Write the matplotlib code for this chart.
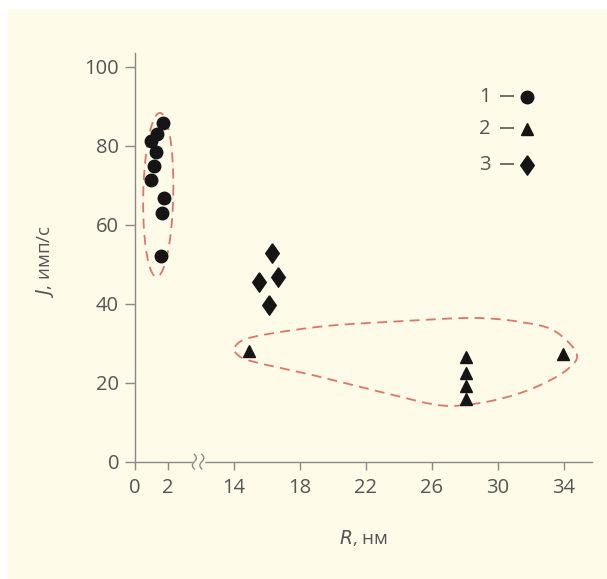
import numpy as np
import matplotlib
matplotlib.use("Agg")
import matplotlib.pyplot as plt
from matplotlib.patches import Rectangle

# data (R in nm, J in counts/s)
r1 = [1.68, 1.31, 0.95, 1.25, 1.13, 1.00, 1.74, 1.62, 1.58]
j1 = [85.7, 82.9, 81.3, 78.5, 75.0, 71.3, 66.8, 62.9, 52.1]
r2 = [14.93, 28.06, 28.06, 28.06, 28.06, 33.96]
j2 = [28.1, 26.6, 22.5, 19.2, 15.9, 27.2]
r3 = [16.32, 15.53, 16.69, 16.14]
j3 = [52.9, 45.6, 46.7, 39.7]

xticks = [0, 2, 14, 18, 22, 26, 30, 34]
yticks = [0, 20, 40, 60, 80, 100]

# outline around group 2 (R, J)
blob_r = [14.06, 15.17, 19.21, 23.25, 27.29, 29.32, 31.33, 33.35, 34.77,
          34.16, 32.35, 30.32, 28.10, 26.28, 23.25, 19.21, 15.58, 14.36]
blob_j = [29.1, 31.6, 34.2, 35.4, 36.3, 36.3, 35.4, 33.3, 27.4,
          23.2, 19.0, 16.1, 14.4, 14.4, 17.3, 21.5, 24.9, 26.6]

CREAM = '#fefbe9'
GREY = '#555555'
AXC = '#8a8a8a'
RED = '#e27467'
FONT = ['Open Sans', 'DejaVu Sans']


def tx(x):
    # broken axis: 2..14 squeezed, values above 8 shifted by 8
    x = np.asarray(x, float)
    return np.where(x > 8, x - 8, x)


def closed_spline(px, py, n=20):
    px = np.asarray(px); py = np.asarray(py)
    m = len(px)
    outx, outy = [], []
    t = np.linspace(0, 1, n, endpoint=False)
    for i in range(m):
        p0, p1, p2, p3 = [(px[(i + k) % m], py[(i + k) % m]) for k in (-1, 0, 1, 2)]
        for c, lst in ((0, outx), (1, outy)):
            a0, a1, a2, a3 = p0[c], p1[c], p2[c], p3[c]
            lst.extend(0.5 * ((2 * a1) + (-a0 + a2) * t +
                              (2 * a0 - 5 * a1 + 4 * a2 - a3) * t ** 2 +
                              (-a0 + 3 * a1 - 3 * a2 + a3) * t ** 3))
    outx.append(outx[0]); outy.append(outy[0])
    return np.array(outx), np.array(outy)


plt.rcParams['font.family'] = FONT

fig = plt.figure(figsize=(6.07, 5.79), dpi=100)
fig.patch.set_facecolor('white')
fig.patches.append(Rectangle((8 / 607, -0.01), 1, 1.01 - 9 / 579, transform=fig.transFigure,
                             facecolor=CREAM, edgecolor='none', zorder=-10))

ax = fig.add_axes([135 / 607, (579 - 461.7) / 579, 457 / 607, 408.7 / 579])
ax.set_facecolor('none')
ax.set_xlim(0, 27.7)
ax.set_ylim(0, 103.5)

for s in ('top', 'right'):
    ax.spines[s].set_visible(False)
for s in ('left', 'bottom'):
    ax.spines[s].set_color(AXC)
    ax.spines[s].set_linewidth(1.0)

ax.set_xticks(tx(xticks))
ax.set_xticklabels([str(v) for v in xticks])
ax.set_yticks(yticks)
ax.tick_params(axis='both', direction='out', color=AXC, width=1.0,
               labelsize=14.5, labelcolor=GREY)
ax.tick_params(axis='x', length=6, pad=6)
ax.tick_params(axis='y', length=7.5, pad=4)

# points
ax.plot(tx(r1), j1, 'o', color='#151515', ms=9, zorder=3)
ax.plot(tx(r2), j2, '^', color='#151515', ms=9, zorder=3)
dia = [(0, 1), (0.7, 0), (0, -1), (-0.7, 0), (0, 1)]
ax.plot(tx(r3), j3, ls='none', marker=dia, color='#151515', ms=14, zorder=3)

# dashed outlines
t = np.linspace(0, 2 * np.pi, 200)
ex = 1.41 + 0.91 * np.cos(t) + 0.10 * np.sin(t)
ey = 67.6 + 20.75 * np.sin(t)
ax.plot(ex, ey, color=RED, lw=1.3, ls=(0, (5.5, 3.5)), zorder=2)
bx, by = closed_spline(tx(blob_r), blob_j)
ax.plot(bx, by, color=RED, lw=1.3, ls=(0, (5.5, 3.5)), zorder=2)

# axis break mark
bt = ax.get_xaxis_transform()
ax.plot([3.6, 4.1], [0, 0], color=CREAM, lw=2.5, transform=bt, clip_on=False, zorder=4)
sy = np.linspace(-1, 1, 30)
for xb in (3.6, 4.05):
    ax.plot(xb + 0.12 * np.sin(sy * np.pi), sy * 0.018, color=AXC, lw=1.0,
            transform=bt, clip_on=False, zorder=5)

# legend
for k, (lab, mk, ms) in enumerate((('1', 'o', 9), ('2', '^', 9), ('3', dia, 14))):
    yy = [92.3, 84.2, 75.1][k]
    ax.text(21.55, yy, lab, ha='right', va='center', fontsize=14.5, color=GREY)
    ax.plot([22.12, 22.97], [yy + 0.3, yy + 0.3], color=GREY, lw=1.2, solid_capstyle='butt')
    ax.plot([23.76], [yy], ls='none', marker=mk, ms=ms, color='#151515', clip_on=False)

fig.text(363 / 607, 1 - 538 / 579, r'$\it{R}$, нм', ha='center', va='center',
         fontsize=13.5, color=GREY)
fig.text(45 / 607, 1 - 262 / 579, r'$\it{J}$, имп/с', ha='center', va='center',
         fontsize=13.5, color=GREY, rotation=90)

fig.savefig('out.png', dpi=100, facecolor=fig.get_facecolor())
